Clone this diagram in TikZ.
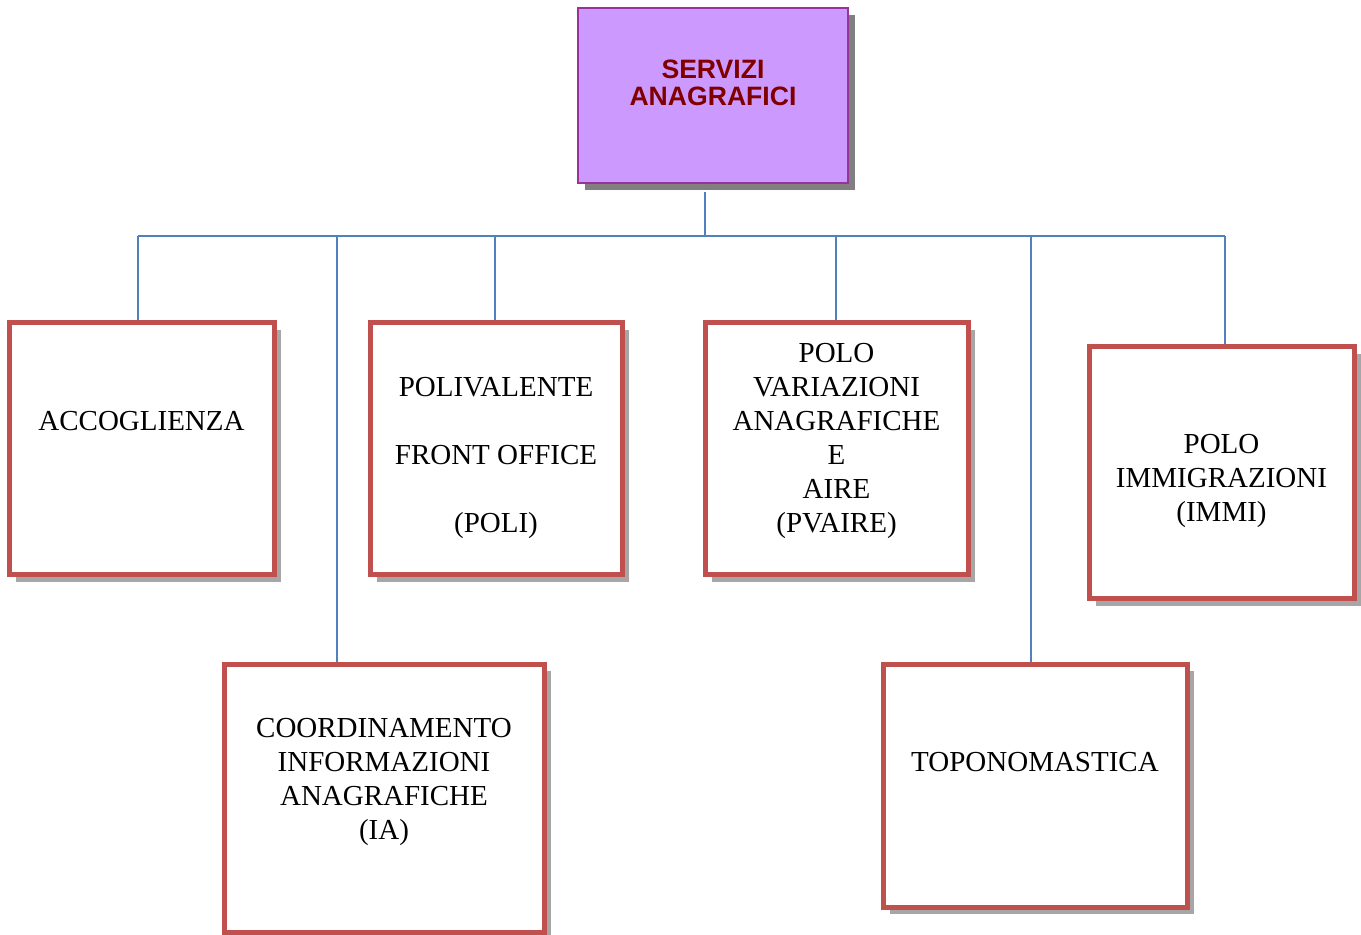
\documentclass[tikz,border=0pt]{standalone}
\usepackage{fontspec}
\setmainfont{Liberation Serif}
\setsansfont{Liberation Sans}
\usepackage{xcolor}
\usetikzlibrary{shadows, positioning, calc}

\definecolor{lilla}{HTML}{CC99FF}
\definecolor{bordolilla}{HTML}{993399}
\definecolor{bordeaux}{HTML}{800000}
\definecolor{rosso}{HTML}{C0504D}
\definecolor{blu}{HTML}{4F81BD}
\definecolor{ombra}{HTML}{808080}
\definecolor{ombrachiara}{HTML}{A6A6A6}

\tikzset{
  capo/.style={draw=bordolilla, line width=0.75pt, fill=lilla,
    minimum width=135pt, minimum height=87.5pt,
    drop shadow={shadow xshift=3.5pt, shadow yshift=-3.5pt, fill=ombra, opacity=1}},
  ufficio/.style={draw=rosso, line width=2.5pt, fill=white, inner sep=0pt,
    drop shadow={shadow xshift=3.5pt, shadow yshift=-3.5pt, fill=ombrachiara, opacity=1}},
  testo/.style={align=center, inner sep=0pt, font=\fontsize{14.5}{17}\selectfont},
  titolo/.style={align=center, inner sep=0pt, text=bordeaux,
    font=\sffamily\bfseries\fontsize{13.3}{13.5}\selectfont},
  linea/.style={draw=blu, line width=0.8pt}
}

\begin{document}
\begin{tikzpicture}[x=0.5pt, y=-0.5pt]
      \useasboundingbox (0,0) rectangle (1361,935);

      % riquadri
      \node[capo] at (713,95.5) (top) {};
      \node[ufficio, minimum width=132.5pt, minimum height=126pt] at (141.5,449) (acc) {};
      \node[ufficio, minimum width=126pt, minimum height=126pt] at (496,449) (poli) {};
      \node[ufficio, minimum width=131.5pt, minimum height=126pt] at (836.5,449) (pvaire) {};
      \node[ufficio, minimum width=132.5pt, minimum height=126pt] at (1221.5,473) (immi) {};
      \node[ufficio, minimum width=160pt, minimum height=134pt] at (384,798) (ia) {};
      \node[ufficio, minimum width=152pt, minimum height=121.5pt] at (1035,785.5) (topo) {};

      % testi
      \node[titolo] at (713,83) (top-t) {SERVIZI\\ANAGRAFICI};
      \node[testo] at (141.5,421) (acc-t) {ACCOGLIENZA};
      \node[testo] at (496,458) (poli-t) {POLIVALENTE\\[17pt]FRONT OFFICE\\[17pt](POLI)};
      \node[testo] at (836.5,441) (pvaire-t) {POLO\\VARIAZIONI\\ANAGRAFICHE\\E\\AIRE\\(PVAIRE)};
      \node[testo] at (1221.5,481) (immi-t) {POLO\\IMMIGRAZIONI\\(IMMI)};
      \node[testo] at (384,782) (ia-t) {COORDINAMENTO\\INFORMAZIONI\\ANAGRAFICHE\\(IA)};
      \node[testo] at (1035,762) (topo-t) {TOPONOMASTICA};

      % collegamenti
      \coordinate (hub) at (705,192);
      \coordinate (bus) at (705,236);
      \coordinate (accdrop) at (138,236);
      \coordinate (iadrop) at (337,236);
      \coordinate (polidrop) at (495,236);
      \coordinate (pvairedrop) at (836,236);
      \coordinate (topodrop) at (1031,236);
      \coordinate (immidrop) at (1225,236);

      \draw[linea] (hub) -- (bus);
      \draw[linea] (accdrop) -- (immidrop);
      \draw[linea] (accdrop) -- (accdrop |- acc.north);
      \draw[linea] (iadrop) -- (iadrop |- ia.north);
      \draw[linea] (polidrop) -- (polidrop |- poli.north);
      \draw[linea] (pvairedrop) -- (pvairedrop |- pvaire.north);
      \draw[linea] (topodrop) -- (topodrop |- topo.north);
      \draw[linea] (immidrop) -- (immidrop |- immi.north);
    \end{tikzpicture}
\end{document}
